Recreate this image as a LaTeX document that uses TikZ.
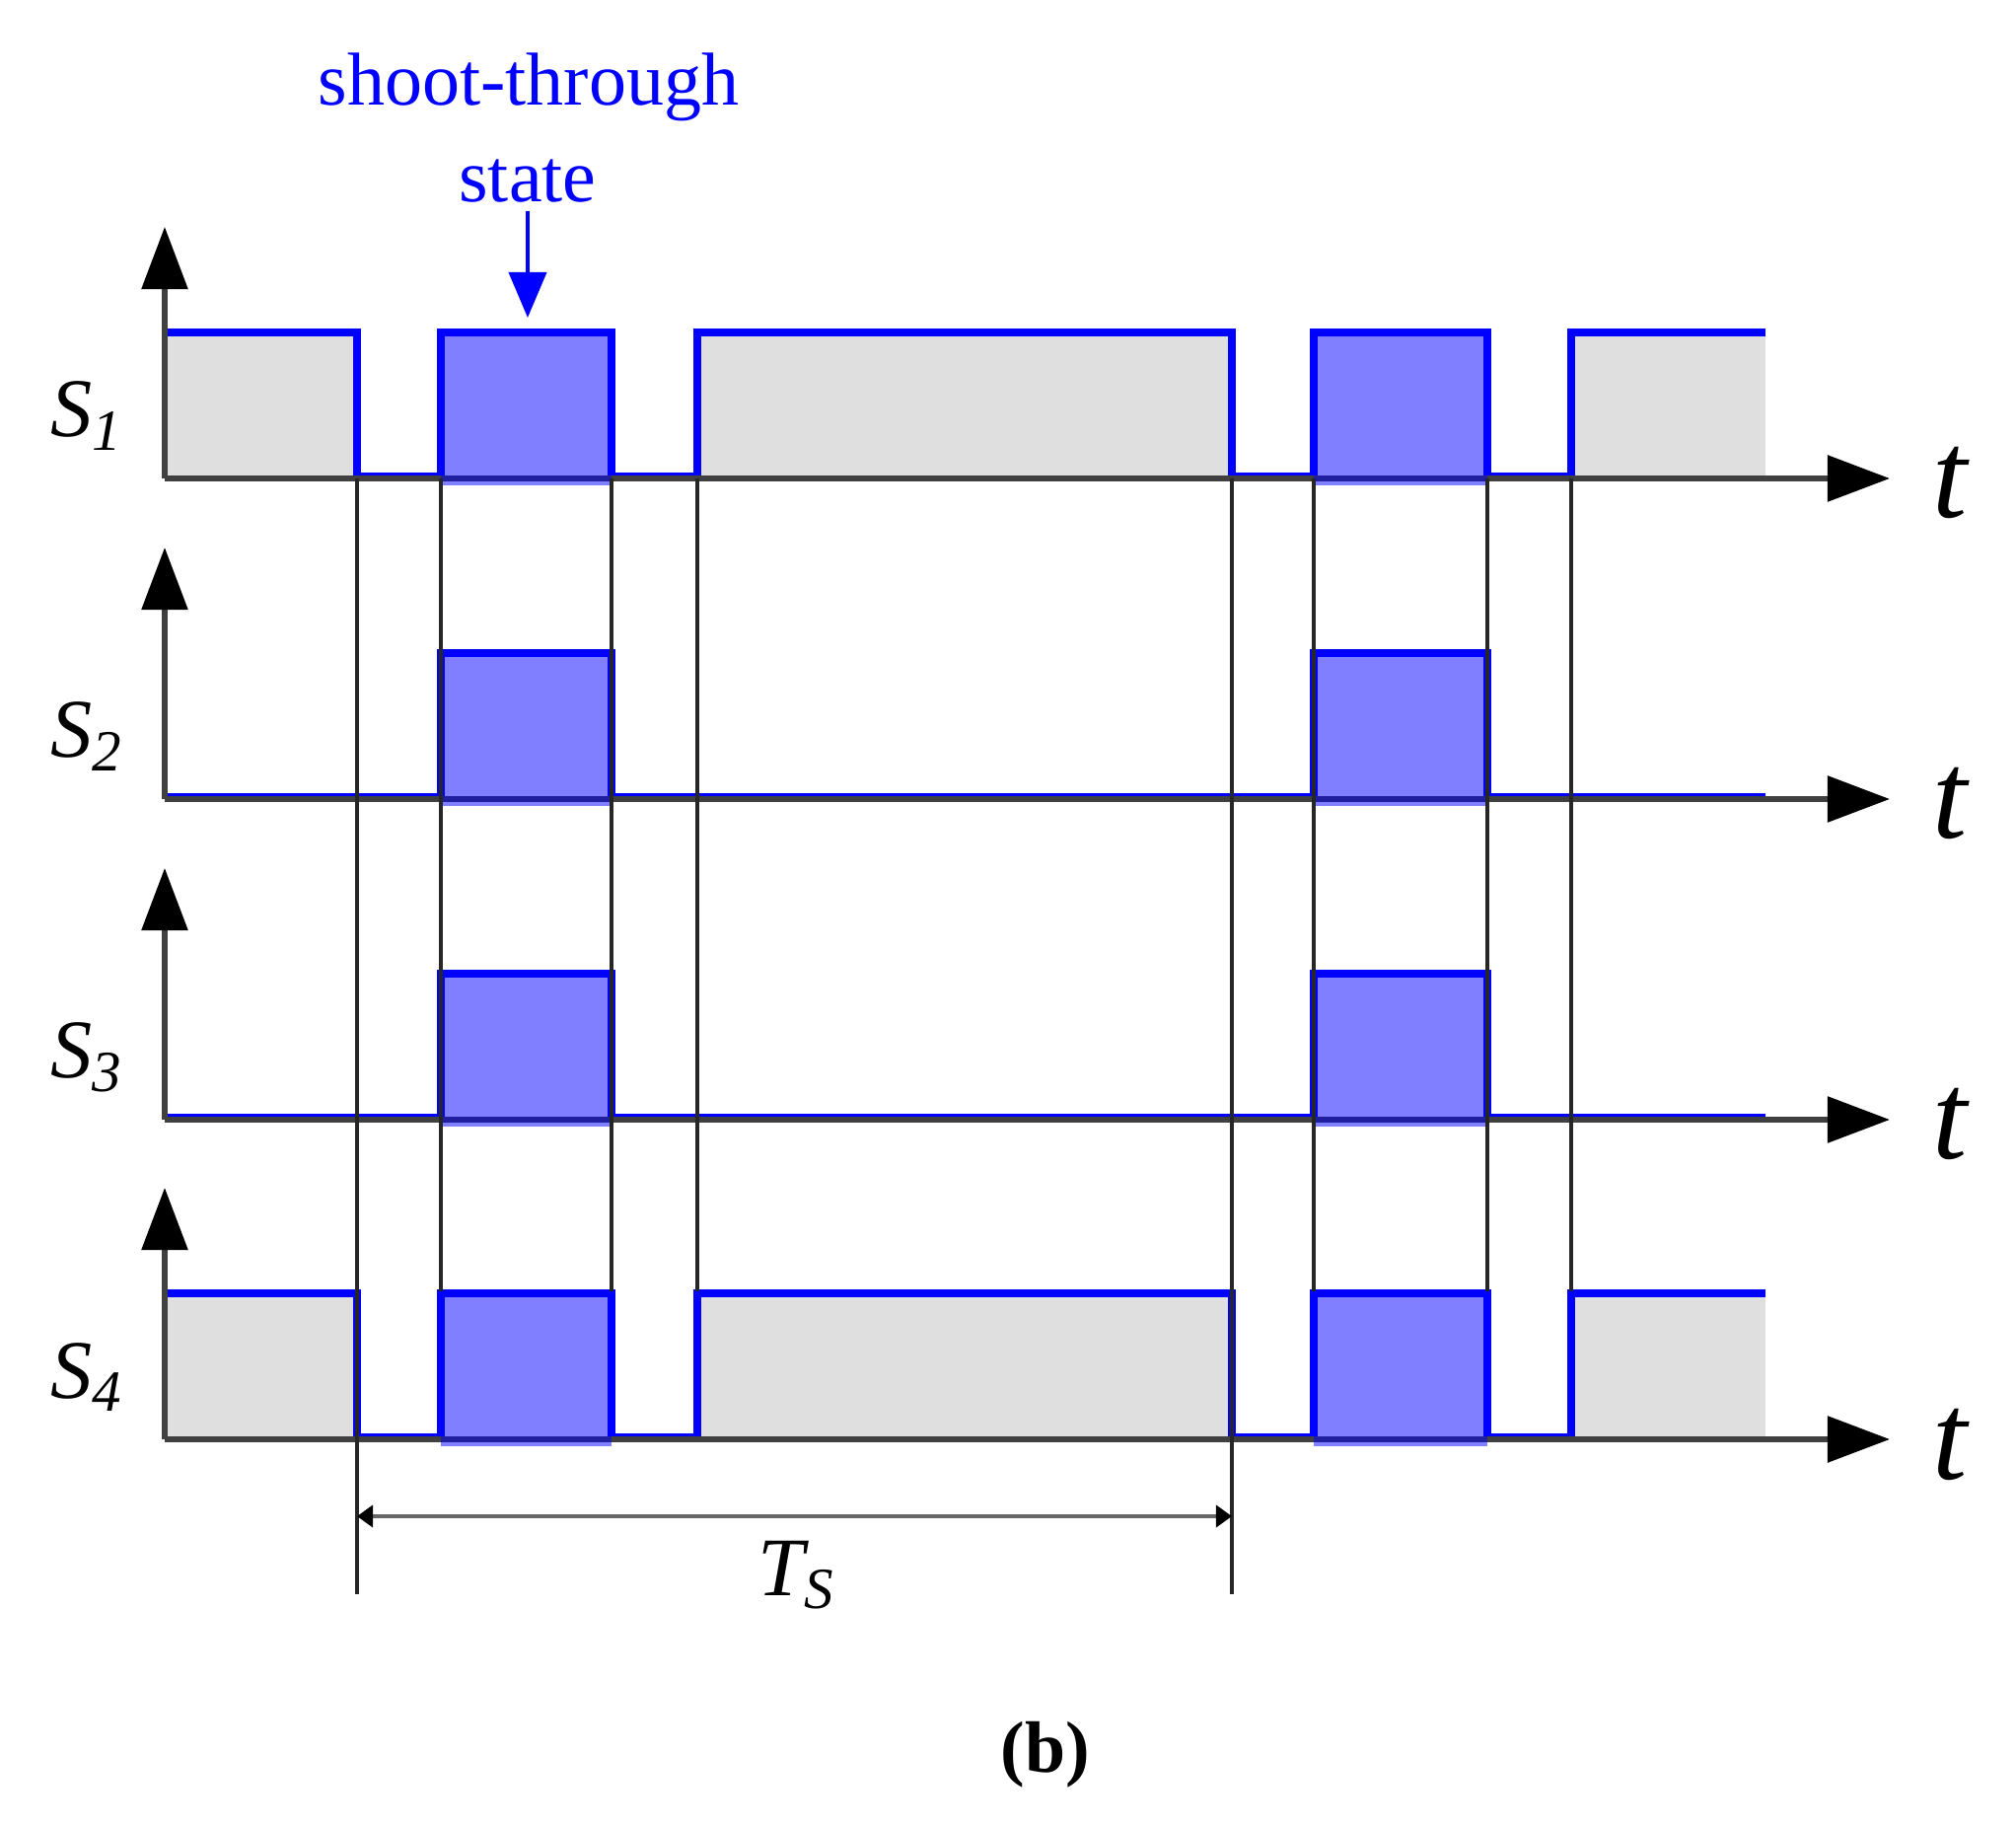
\documentclass[tikz,border=0pt]{standalone}
\usepackage{fontspec}
\setmainfont{Liberation Serif}
\usepackage{xcolor}
\definecolor{colorPulse}{RGB}{0,0,255}
\definecolor{colorActive}{RGB}{223,223,223}
\colorlet{colorAxis}{black!75}
\usepackage{tikz}
\usetikzlibrary{arrows.meta}
\tikzset{axistip/.tip={Triangle[length=0.63cm, width=0.46cm, color=black]},
  statetip/.tip={Triangle[length=0.46cm, width=0.38cm]},
  dimtip/.tip={Triangle[length=0.16cm, width=0.22cm, color=black]}}

\begin{document}
\begin{tikzpicture}[x=0.01cm, y=-0.01cm,
  signal/.style={colorPulse, line width=2.4pt},
  axis/.style={colorAxis, line width=1.6pt},
  gridline/.style={black!85, line width=1.3pt},
  dimline/.style={black!60, line width=1pt},
  siglabel/.style={font=\fontsize{24}{28}\selectfont\itshape, inner sep=0pt, anchor=base},
  tlabel/.style={font=\fontsize{36}{40}\selectfont\itshape, inner sep=0pt, anchor=base},
  stlabel/.style={colorPulse, font=\fontsize{21.6}{26}\selectfont, inner sep=0pt, anchor=base}]
\useasboundingbox (0,0) rectangle (2044,1852);
\foreach \yb/\n/\full in {485/1/1, 810/2/0, 1135/3/0, 1459/4/1}{
  \pgfmathsetmacro\yh{\yb-148}
  \pgfmathsetmacro\yl{\yb-2}
  \ifnum\full=1
    \foreach \xa/\xb in {167/362, 707/1249, 1593/1790}
      \fill[colorActive] (\xa,\yh) rectangle (\xb,\yb);
    \draw[signal] (167,\yh) -| (362,\yl) -| (447,\yh) -| (620,\yl) -| (707,\yh) -| (1249,\yl) -| (1332,\yh) -| (1508,\yl) -| (1593,\yh) -- (1790,\yh);
  \else
    \draw[signal] (167,\yl) -| (447,\yh) -| (620,\yl) -| (1332,\yh) -| (1508,\yl) -- (1790,\yl);
  \fi
  \draw[axis, -axistip] (167,\yb) -- (1916,\yb);
  \draw[axis, -axistip] (167,\yb) -- (167,\yb-255);
  \foreach \xa/\xb in {447/620, 1332/1508}
    \fill[colorPulse, fill opacity=0.5] (\xa,\yh) rectangle (\xb,\yb+7);
  \node[siglabel] (s\n) at (88,\yb-42) {S\textsubscript{\n}};
  \node[tlabel] (t\n) at (1977,\yb+40) {t};
}
\foreach \x in {447, 620, 707, 1332, 1508, 1593}
  \draw[gridline] (\x,485) -- (\x,1309);
\foreach \x in {362, 1249}
  \draw[gridline] (\x,485) -- (\x,1616);
\coordinate (tsL) at (362,1537);
\coordinate (tsR) at (1249,1537);
\draw[dimline, dimtip-dimtip] (tsL) -- (tsR);
\node[siglabel] (ts) at (808,1617) {T\textsubscript{S}};
\node[stlabel] (st1) at (536,107) {shoot-through};
\node[stlabel] (st2) at (535,205) {state};
\coordinate (stTip) at (535,322);
\draw[colorPulse, line width=1.1pt, -statetip, shorten <=0.08cm] (st2) -- (stTip);
\node[font=\fontsize{21}{25}\selectfont\bfseries] (cap) at (1060,1779) {(b)};
\end{tikzpicture}
\end{document}
